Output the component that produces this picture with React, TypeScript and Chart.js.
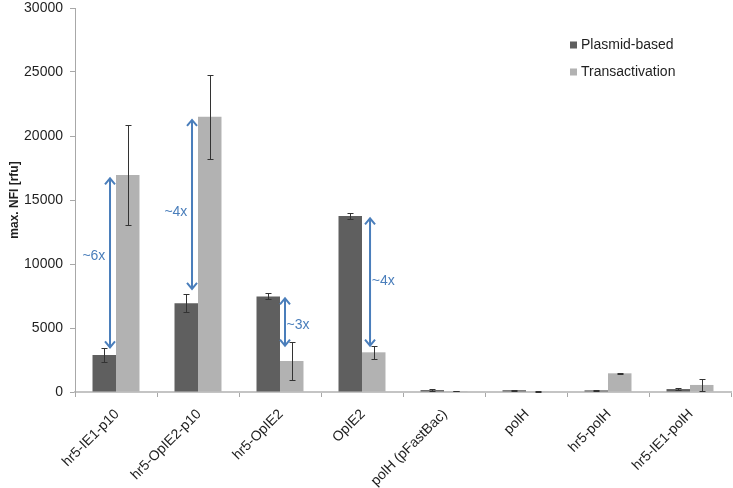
import React, { useEffect, useRef } from "react";
import { Chart, registerables } from "chart.js";

Chart.register(...registerables);

const categories = [
  "hr5-IE1-p10",
  "hr5-OpIE2-p10",
  "hr5-OpIE2",
  "OpIE2",
  "polH (pFastBac)",
  "polH",
  "hr5-polH",
  "hr5-IE1-polH",
];
const seriesNames = ["Plasmid-based", "Transactivation"];
const plasmidValues = [2890, 6930, 7470, 13750, 150, 140, 130, 230];
const plasmidErrors = [520, 700, 230, 260, 50, 40, 50, 50];
const transValues = [16950, 21500, 2420, 3100, 60, 30, 1460, 550];
const transErrors = [3900, 3280, 1520, 520, 20, 10, 40, 440];
const yTicks = [0, 5000, 10000, 15000, 20000, 25000, 30000];
const yTitle = "max. NFI [rfu]";

// fold-change annotations
const foldLabels = ["~6x", "~4x", "~3x", "~4x"];
const foldCategory = [0, 1, 2, 3];
const foldTop = [16770, 21330, 7400, 13650];
const foldBottom = [3410, 7970, 3540, 3540];
const foldLabelValue = [10625, 14060, 5230, 8670];

// layout (fraction of category width)
const arrowOffset = [-0.073, -0.073, 0.061, 0.098];
const labelOffset = [-0.27, -0.27, 0.22, 0.26];

const DARK = "#5f5f5f";
const LIGHT = "#b2b2b2";
const BLUE = "#4a7ebb";
const TEXT = "#1f1f1f";
const FONT = "'Liberation Sans', Arial, sans-serif";

const errorBarPlugin = {
  id: "errorBars",
  afterDatasetsDraw(chart: any) {
    const ctx = chart.ctx;
    const y = chart.scales.y;
    const errs = [plasmidErrors, transErrors];
    const vals = [plasmidValues, transValues];
    ctx.save();
    ctx.strokeStyle = "#333333";
    ctx.lineWidth = 1;
    chart.data.datasets.forEach((_: any, di: number) => {
      const meta = chart.getDatasetMeta(di);
      meta.data.forEach((bar: any, i: number) => {
        const v = vals[di][i];
        const e = errs[di][i];
        const x = Math.round(bar.x) + 0.5;
        const yt = Math.round(y.getPixelForValue(v + e)) + 0.5;
        const yb = Math.round(y.getPixelForValue(Math.max(0, v - e))) + 0.5;
        ctx.beginPath();
        ctx.moveTo(x, yt);
        ctx.lineTo(x, yb);
        ctx.moveTo(x - 3, yt);
        ctx.lineTo(x + 3, yt);
        ctx.moveTo(x - 3, yb);
        ctx.lineTo(x + 3, yb);
        ctx.stroke();
      });
    });
    ctx.restore();
  },
};

const annotationPlugin = {
  id: "foldAnnotations",
  afterDatasetsDraw(chart: any) {
    const ctx = chart.ctx;
    const xs = chart.scales.x;
    const ys = chart.scales.y;
    const cw = (chart.chartArea.right - chart.chartArea.left) / categories.length;
    ctx.save();
    ctx.strokeStyle = BLUE;
    ctx.fillStyle = BLUE;
    ctx.lineWidth = 2;
    foldLabels.forEach((lab, i) => {
      const cx = xs.getPixelForValue(foldCategory[i]);
      const x = cx + arrowOffset[i] * cw;
      const yt = ys.getPixelForValue(foldTop[i]);
      const yb = ys.getPixelForValue(foldBottom[i]);
      ctx.beginPath();
      ctx.moveTo(x, yt + 1);
      ctx.lineTo(x, yb - 1);
      ctx.moveTo(x - 5, yt + 7);
      ctx.lineTo(x, yt + 1);
      ctx.lineTo(x + 5, yt + 7);
      ctx.moveTo(x - 5, yb - 7);
      ctx.lineTo(x, yb - 1);
      ctx.lineTo(x + 5, yb - 7);
      ctx.stroke();
      ctx.font = `14px ${FONT}`;
      ctx.textAlign = "center";
      ctx.textBaseline = "middle";
      ctx.fillText(lab, cx + labelOffset[i] * cw, ys.getPixelForValue(foldLabelValue[i]));
    });
    ctx.restore();
  },
};

const legendPlugin = {
  id: "insideLegend",
  afterDraw(chart: any) {
    const ctx = chart.ctx;
    const colors = [DARK, LIGHT];
    ctx.save();
    ctx.font = `14px ${FONT}`;
    ctx.textAlign = "left";
    ctx.textBaseline = "middle";
    seriesNames.forEach((name, i) => {
      const yc = 45 + i * 27;
      ctx.fillStyle = colors[i];
      ctx.fillRect(570, yc - 3.5, 7, 7);
      ctx.fillStyle = TEXT;
      ctx.fillText(name, 581, yc);
    });
    ctx.restore();
  },
};

export default function App() {
  const ref = useRef<HTMLCanvasElement | null>(null);

  useEffect(() => {
    if (!ref.current) return;
    const chart = new Chart(ref.current, {
      type: "bar",
      data: {
        labels: categories,
        datasets: [
          {
            label: seriesNames[0],
            data: plasmidValues,
            backgroundColor: DARK,
            categoryPercentage: 0.573,
            barPercentage: 1,
          },
          {
            label: seriesNames[1],
            data: transValues,
            backgroundColor: LIGHT,
            categoryPercentage: 0.573,
            barPercentage: 1,
          },
        ],
      },
      options: {
        responsive: false,
        animation: false,
        devicePixelRatio: 1,
        layout: { padding: { left: 0, top: 8, right: 2, bottom: 0 } },
        plugins: {
          legend: { display: false },
          tooltip: { enabled: false },
        },
        scales: {
          x: {
            offset: true,
            border: { display: true, color: "#c4c4c4", width: 2 },
            grid: {
              display: true,
              offset: true,
              drawOnChartArea: false,
              drawTicks: true,
              tickLength: 5,
              tickColor: "#a8a8a8",
              color: "#a8a8a8",
            },
            ticks: {
              minRotation: 45,
              maxRotation: 45,
              autoSkip: false,
              padding: 9,
              labelOffset: 1,
              color: TEXT,
              font: { family: FONT, size: 14 },
            },
            afterFit(scale: any) {
              scale.height = 96;
              scale.paddingLeft = 0;
              scale.paddingRight = 0;
            },
          } as any,
          y: {
            min: 0,
            max: 30000,
            border: { display: true, color: "#a8a8a8", width: 1 },
            grid: {
              display: true,
              drawOnChartArea: false,
              drawTicks: true,
              tickLength: 5,
              tickColor: "#a8a8a8",
            },
            ticks: {
              padding: 7,
              color: TEXT,
              font: { family: FONT, size: 14 },
              callback: (v: any) => String(v),
            },
            afterBuildTicks(scale: any) {
              scale.ticks = yTicks.map((v) => ({ value: v }));
            },
            title: {
              display: true,
              text: yTitle,
              color: TEXT,
              font: { family: FONT, size: 12, weight: "bold" },
              padding: { top: 7, bottom: 0 },
            },
            afterFit(scale: any) {
              scale.width = 75;
              scale.paddingTop = 0;
              scale.paddingBottom = 0;
            },
          } as any,
        },
      },
      plugins: [errorBarPlugin, annotationPlugin, legendPlugin],
    });
    return () => chart.destroy();
  }, []);

  return (
    <div style={{ position: "absolute", left: 0, top: 0, width: 733, height: 488, background: "#fff" }}>
      <canvas ref={ref} width={733} height={488} style={{ width: 733, height: 488, display: "block" }} />
    </div>
  );
}
